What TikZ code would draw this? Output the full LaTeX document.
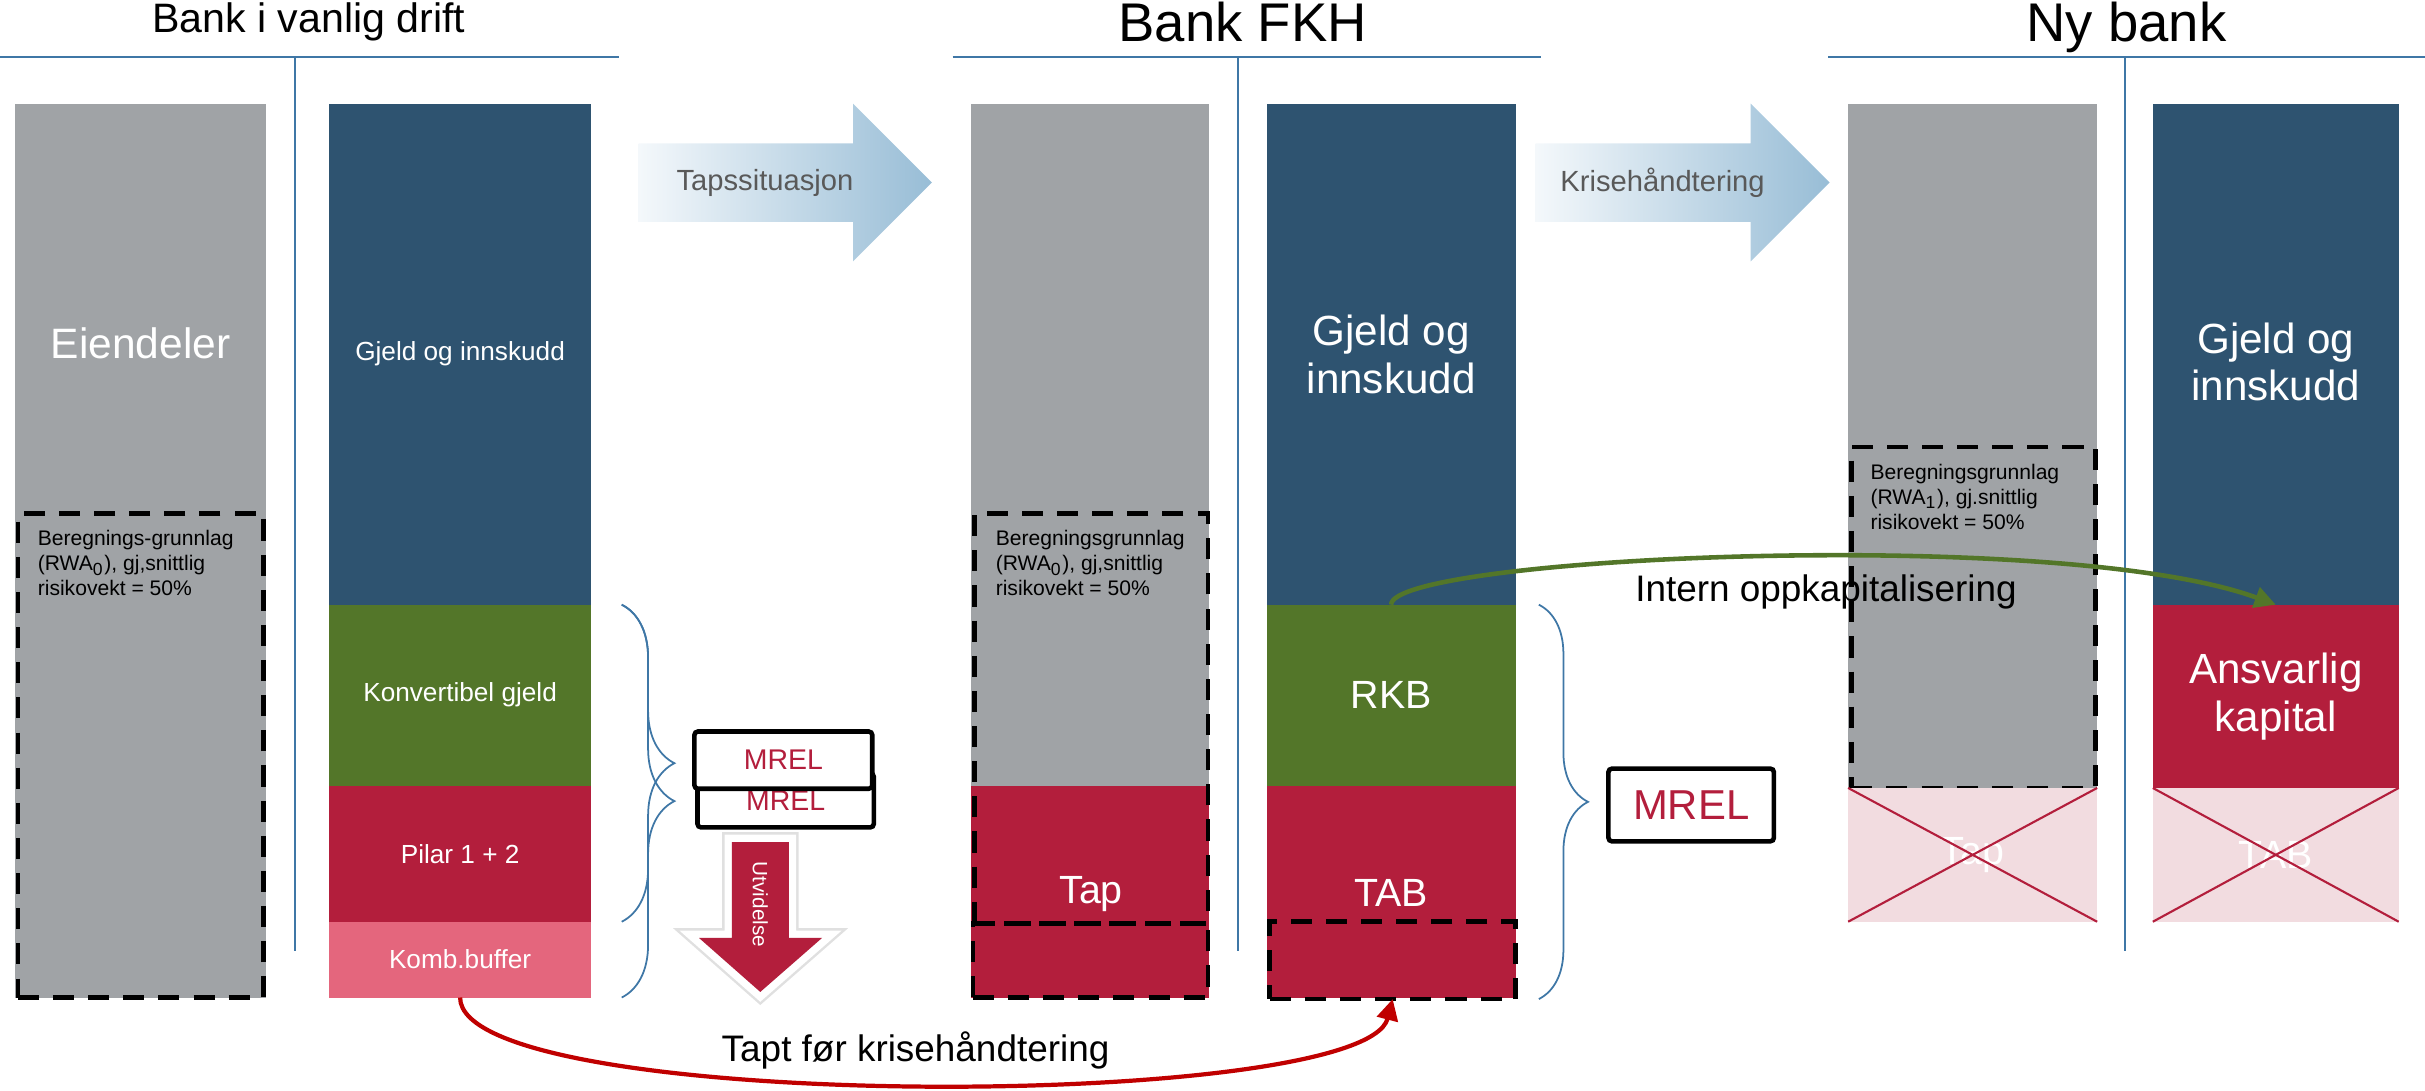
\documentclass[tikz,border=0pt]{standalone}
\usepackage{fontspec}
\setmainfont{Liberation Sans}
\usepackage{tikz}
\usetikzlibrary{fit,arrows.meta,decorations.pathreplacing}
\definecolor{colgray}{RGB}{160,163,166}
\definecolor{coldark}{RGB}{46,83,112}
\definecolor{colgreen}{RGB}{83,118,41}
\definecolor{colred}{RGB}{179,30,60}
\definecolor{colpink}{RGB}{228,102,125}
\definecolor{colpale}{RGB}{242,220,224}
\definecolor{lineblue}{RGB}{63,119,166}
\definecolor{lossred}{RGB}{192,0,0}
\definecolor{arrowlo}{RGB}{244,248,251}
\definecolor{arrowhi}{RGB}{152,189,214}
\definecolor{arrowtxt}{RGB}{89,89,89}

\begin{document}
\begin{tikzpicture}[x=0.15466mm, y=-0.15466mm,
  block/.style={inner sep=0pt, outer sep=0pt},
  blocktext/.style={inner sep=0pt, text=white, align=center},
  smalltext/.style={blocktext, font=\fontsize{7.45}{9}\selectfont},
  bigtext/.style={blocktext, font=\fontsize{12}{13.6}\selectfont},
  losstext/.style={blocktext, font=\fontsize{11.2}{13}\selectfont},
  strike/.style={draw=colred, line width=0.6pt},
  rwabox/.style={draw=black, line width=1.3pt, dash pattern=on 6pt off 4pt, inner sep=0pt, outer sep=0pt},
  rwatext/.style={inner sep=0pt, anchor=north west, align=left, font=\fontsize{6}{7.1}\selectfont},
  mrelbox/.style={draw=black, fill=white, line width=1.3pt, rounded corners=1pt, inner sep=0pt},
  mreltext/.style={inner sep=0pt, text=colred},
  heading/.style={anchor=base, inner sep=0pt},
  hrule/.style={draw=lineblue, line width=0.6pt},
  curly/.style={draw=lineblue, line width=0.5pt, decorate, decoration={brace, amplitude=#1}},
  arrowtext/.style={text=arrowtxt, font=\fontsize{8.3}{10}\selectfont},
  flowtext/.style={inner sep=0pt, font=\fontsize{10.5}{12}\selectfont}
]
\useasboundingbox (0,0) rectangle (1568,705);

\node[heading, font=\fontsize{11.7}{14}\selectfont] (hvanlig) at (199.6,21.3) {Bank i vanlig drift};
\node[heading, font=\fontsize{15.5}{18}\selectfont] (hfkh) at (803.5,27) {Bank FKH};
\node[heading, font=\fontsize{15.5}{18}\selectfont] (hny) at (1375,27) {Ny bank};
\draw[hrule] (0,37) -- (400,37) (191,37) -- (191,615);
\draw[hrule] (616,37) -- (996.5,37) (800.5,37) -- (800.5,615);
\draw[hrule] (1182,37) -- (1568,37) (1374,37) -- (1374,615);

\node[block, fill=colgray, fit={(10,67) (172,645)}] (eiend) {};
\node[blocktext, font=\fontsize{12.1}{14}\selectfont] (eiendtxt) at (91,222) {Eiendeler};
\node[rwabox, fit={(11.5,332) (170.5,645)}] (rwa0) {};
\node[rwatext] (rwa0txt) at (24,342.7) {Beregnings-grunnlag\\(RWA\textsubscript{0}), gj,snittlig\\risikovekt = 50\%};
\node[block, fill=coldark, fit={(213,67) (382,391)}] (gjeld) {};
\node[smalltext] (gjeldtxt) at (gjeld) {Gjeld og innskudd};
\node[block, fill=colgreen, fit={(213,391) (382,508)}] (konv) {};
\node[smalltext] (konvtxt) at (konv) {Konvertibel gjeld};
\node[block, fill=colred, fit={(213,508) (382,596)}] (pilar) {};
\node[smalltext] (pilartxt) at (pilar) {Pilar 1 + 2};
\node[block, fill=colpink, fit={(213,596) (382,645)}] (kombbuf) {};
\node[smalltext] (kombbuftxt) at (kombbuf) {Komb.buffer};
\draw[curly=15pt] (402,391) -- (402,596);
\draw[curly=15pt] (402,391) -- (402,645);
\node[mrelbox, fit={(451,500) (565,535)}] (mrel2) {};
\node[mreltext, font=\fontsize{8.1}{10}\selectfont] (mrel2txt) at (mrel2) {MREL};
\node[mrelbox, fit={(449,473) (564,510)}] (mrel1) {};
\node[mreltext, font=\fontsize{8.1}{10}\selectfont] (mrel1txt) at (mrel1) {MREL};
\fill[colred, preaction={draw=black!12, line width=5.6pt, line join=miter}, preaction={draw=white, line width=4.2pt, line join=miter}]
  (473.3,544.5) -- (510,544.5) -- (510,606.5) -- (531.5,606.5) -- (491.6,641.4) -- (452,606.5) -- (473.3,606.5) -- cycle;
\node[rotate=-90, inner sep=0pt, text=white, font=\fontsize{5.9}{7}\selectfont] (utv) at (491.6,584.8) {Utvidelse};

\shade[left color=arrowlo, right color=arrowhi] (413,92.7) -- (551.6,92.7) -- (551.6,67) -- (602.6,118) -- (551.6,169) -- (551.6,143.4) -- (413,143.4) -- cycle;
\node[arrowtext] (tapss) at (494.6,118) {Tapssituasjon};
\shade[left color=arrowlo, right color=arrowhi] (993,92.7) -- (1132,92.7) -- (1132,67) -- (1183,118) -- (1132,169) -- (1132,143.4) -- (993,143.4) -- cycle;
\node[arrowtext] (krise) at (1075,118) {Krisehåndtering};

\node[block, fill=colgray, fit={(628,67) (782,508)}] (fkhassets) {};
\node[block, fill=colred, fit={(628,508) (782,645)}] (fkhloss) {};
\node[losstext] (taptxt) at (705.5,578) {Tap};
\node[rwabox, fit={(630,332) (781,597)}] (rwafkh) {};
\node[rwabox, fit={(629,597) (781,645)}] (lossdash) {};
\node[rwatext] (rwafkhtxt) at (643.4,342.7) {Beregningsgrunnlag\\(RWA\textsubscript{0}), gj,snittlig\\risikovekt = 50\%};
\node[block, fill=coldark, fit={(819,67) (980,391)}] (fkhgjeld) {};
\node[bigtext] (fkhgjeldtxt) at (fkhgjeld) {Gjeld og\\innskudd};
\node[block, fill=colgreen, fit={(819,391) (980,508)}] (rkb) {};
\node[losstext] (rkbtxt) at (rkb) {RKB};
\node[block, fill=colred, fit={(819,508) (980,645)}] (tab) {};
\node[losstext] (tabtxt) at (899.5,577.6) {TAB};
\node[rwabox, fit={(821,596) (980,646)}] (tabdash) {};
\draw[curly=14pt] (995,391) -- (995,646);
\node[mrelbox, fit={(1040,497) (1147,544)}] (mrelfkh) {};
\node[mreltext, font=\fontsize{11.9}{14}\selectfont] (mrelfkhtxt) at (mrelfkh) {MREL};

\node[block, fill=colgray, fit={(1195,67) (1356,509.5)}] (nyassets) {};
\node[rwabox, fit={(1197,289) (1355,509.5)}] (rwany) {};
\node[rwatext] (rwanytxt) at (1209,299.5) {Beregningsgrunnlag\\(RWA\textsubscript{1}), gj.snittlig\\risikovekt = 50\%};
\node[block, fill=colpale, fit={(1195,509.5) (1356,596)}] (nytap) {};
\node[losstext] (nytaptxt) at (nytap) {Tap};
\draw[strike] (nytap.north west) -- (nytap.south east) (nytap.north east) -- (nytap.south west);
\node[block, fill=coldark, fit={(1392,67) (1551,391)}] (nygjeld) {};
\node[bigtext] (nygjeldtxt) at (1471.5,234) {Gjeld og\\innskudd};
\node[block, fill=colred, fit={(1392,391) (1551,509.5)}] (ansv) {};
\node[bigtext] (ansvtxt) at (ansv) {Ansvarlig\\kapital};
\node[block, fill=colpale, fit={(1392,509.5) (1551,596)}] (nytab) {};
\node[losstext] (nytabtxt) at (nytab) {TAB};
\draw[strike] (nytab.north west) -- (nytab.south east) (nytab.north east) -- (nytab.south west);

\draw[lossred, line width=1.2pt, -{Triangle[length=6pt,width=6pt]}] (kombbuf.south) .. controls +(0,75) and +(-19,73) .. (tabdash.south);
\node[flowtext] (taptlbl) at (592,679) {Tapt før krisehåndtering};
\draw[colgreen, line width=1.3pt, -{Triangle[length=6pt,width=6pt]}] (rkb.north) .. controls +(0,-31) and +(-139,-51) .. (ansv.north);
\node[flowtext] (internlbl) at (1180.7,382.5) {Intern oppkapitalisering};
\end{tikzpicture}
\end{document}
